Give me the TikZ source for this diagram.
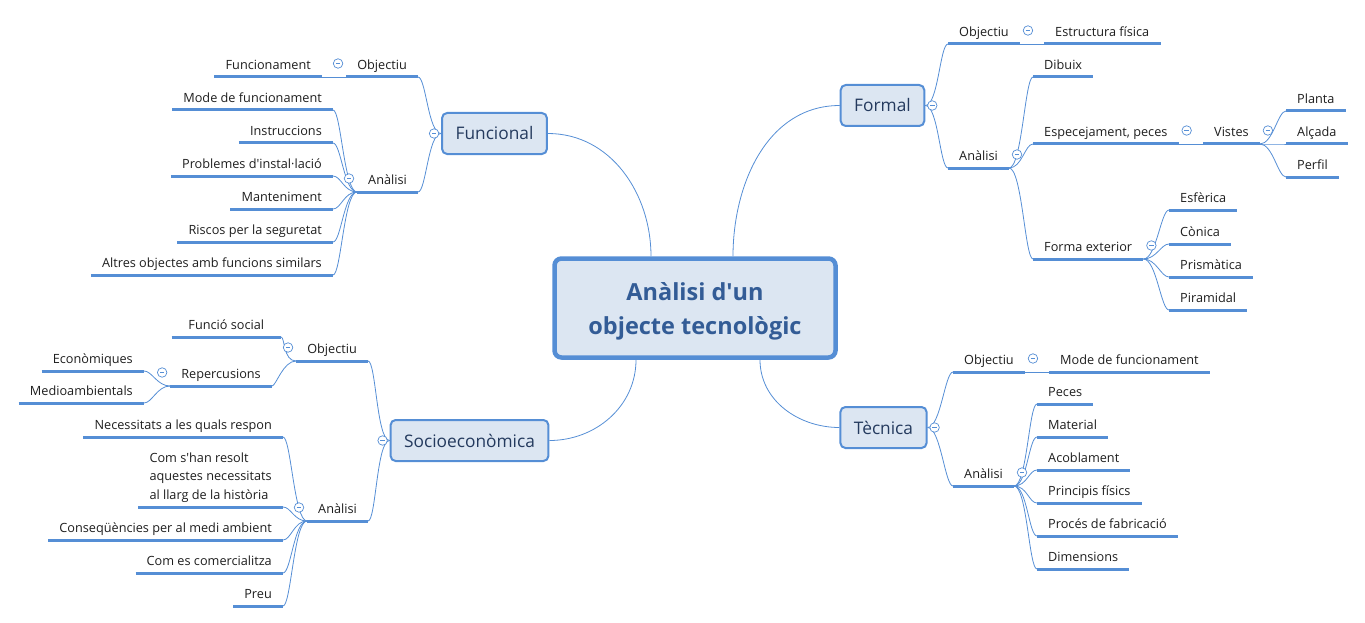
\documentclass[tikz,border=0pt]{standalone}
\usepackage{fontspec}
\setmainfont{Open Sans}
\definecolor{mapline}{RGB}{85,142,213}
\definecolor{mapfill}{RGB}{220,230,242}
\definecolor{maintext}{RGB}{51,92,150}
\definecolor{topictext}{RGB}{36,58,94}
\definecolor{leaftext}{RGB}{30,30,30}
\newcommand{\ap}{\textquotesingle}
\tikzset{
  centre/.style={draw=mapline, line width=4.5pt, fill=mapfill, rounded corners=7pt,
    minimum width=281pt, minimum height=99pt},
  title/.style={align=center, font=\fontsize{23.5}{34}\selectfont\bfseries, text=maintext},
  topic/.style={draw=mapline, line width=2pt, fill=mapfill, rounded corners=5pt,
    minimum height=41pt, inner xsep=13.5pt, font=\fontsize{17.3}{20}\selectfont, text=topictext},
  leaf/.style={inner xsep=11pt, inner ysep=4.7pt, text depth=3pt,
    font=\fontsize{12.7}{18.5}\selectfont, text=leaftext},
  leafL/.style={leaf, anchor=south east},
  leafR/.style={leaf, anchor=south west},
  uline/.style={draw=mapline, line width=3pt},
  branch/.style={draw=mapline, line width=0.8pt},
  spreadR/.style={branch, out=0, in=180, out distance=13pt, in distance=8pt},
  spreadL/.style={branch, out=180, in=0, out distance=13pt, in distance=8pt},
  fold/.style={circle, draw=mapline, fill=white, line width=0.7pt, minimum size=9.5pt, inner sep=0pt,
    path picture={\draw[mapline, line width=0.7pt] ([xshift=2.5pt]path picture bounding box.west)
      -- ([xshift=-2.5pt]path picture bounding box.east);}}
}
\begin{document}
\begin{tikzpicture}[x=1pt,y=1pt]
\useasboundingbox (0,0) rectangle (1365,-623);

%Drawing centre and main topics
\node[centre] (centre) at (695,-308) {};
\node[title] (titletext) at ([yshift=-3pt]centre.center) {Anàlisi d\ap un\\objecte tecnològic};
\node[topic] (funcional) at (494.5,-133.5) {Funcional};
\node[topic] (formal) at (882.5,-105.5) {Formal};
\node[topic] (socio) at (469.5,-440.5) {Socioeconòmica};
\node[topic] (tecnica) at (883.5,-427.5) {Tècnica};

%Funcional
\node[leafL] (fuObj) at (418,-77) {Objectiu};
\node[leafL] (fuObjF) at (322,-77) {Funcionament};
\node[leafL] (fuAn) at (418,-192) {Anàlisi};
\node[leafL] (fu1) at (333,-110) {Mode de funcionament};
\node[leafL] (fu2) at (333,-143) {Instruccions};
\node[leafL] (fu3) at (333,-176) {Problemes d\ap instal·lació};
\node[leafL] (fu4) at (333,-209) {Manteniment};
\node[leafL] (fu5) at (333,-242) {Riscos per la seguretat};
\node[leafL] (fu6) at (333,-275) {Altres objectes amb funcions similars};

%Formal
\node[leafR] (fObj) at (948,-44) {Objectiu};
\node[leafR] (fObjE) at (1044,-44) {Estructura física};
\node[leafR] (fAn) at (948,-168) {Anàlisi};
\node[leafR] (fDib) at (1033,-77) {Dibuix};
\node[leafR] (fEsp) at (1033,-144) {Especejament, peces};
\node[leafR] (fVis) at (1203,-144) {Vistes};
\node[leafR] (fv1) at (1286,-111) {Planta};
\node[leafR] (fv2) at (1286,-144) {Alçada};
\node[leafR] (fv3) at (1286,-177) {Perfil};
\node[leafR] (fFor) at (1033,-259) {Forma exterior};
\node[leafR] (fe1) at (1169,-210) {Esfèrica};
\node[leafR] (fe2) at (1169,-244) {Cònica};
\node[leafR] (fe3) at (1169,-277) {Prismàtica};
\node[leafR] (fe4) at (1169,-310) {Piramidal};

%Socioeconomica
\node[leafL] (sObj) at (368,-361) {Objectiu};
\node[leafL, minimum width=109pt] (sFun) at (281,-337) {Funció social};
\node[leafL] (sRep) at (272,-386) {Repercusions};
\node[leafL] (sEco) at (144,-371) {Econòmiques};
\node[leafL] (sMed) at (144,-403) {Medioambientals};
\node[leafL] (sAn) at (368,-521) {Anàlisi};
\node[leafL] (s1) at (283,-437) {Necessitats a les quals respon};
\node[leafL, align=left] (s2) at (283,-507) {Com s\ap han resolt\\aquestes necessitats\\al llarg de la història};
\node[leafL] (s3) at (283,-540) {Conseqüències per al medi ambient};
\node[leafL] (s4) at (283,-573) {Com es comercialitza};
\node[leafL] (s5) at (283,-606) {Preu};

%Tecnica
\node[leafR] (tObj) at (953,-372) {Objectiu};
\node[leafR] (tObjM) at (1049,-372) {Mode de funcionament};
\node[leafR] (tAn) at (953,-486) {Anàlisi};
\node[leafR] (t1) at (1037,-404) {Peces};
\node[leafR] (t2) at (1037,-437) {Material};
\node[leafR] (t3) at (1037,-470) {Acoblament};
\node[leafR] (t4) at (1037,-503) {Principis físics};
\node[leafR] (t5) at (1037,-536) {Procés de fabricació};
\node[leafR] (t6) at (1037,-569) {Dimensions};

%underlines
\foreach \n in {fuObj,fuObjF,fuAn,fu1,fu2,fu3,fu4,fu5,fu6,
  fObj,fObjE,fAn,fDib,fEsp,fVis,fv1,fv2,fv3,fFor,fe1,fe2,fe3,fe4,
  sObj,sFun,sRep,sEco,sMed,sAn,s1,s2,s3,s4,s5,
  tObj,tObjM,tAn,t1,t2,t3,t4,t5,t6}
  \draw[uline] (\n.south west) -- (\n.south east);

%connecting centre to topics
\draw[branch] ([xshift=-44pt]centre.north) to[out=90,in=0] (funcional.east);
\draw[branch] ([xshift=38pt]centre.north) to[out=90,in=180] (formal.west);
\draw[branch] ([xshift=-59pt]centre.south) to[out=-90,in=0] (socio.east);
\draw[branch] ([xshift=65pt]centre.south) to[out=-90,in=180] (tecnica.west);

%connecting topics to subtopics
\foreach \n in {fuObj,fuAn} \draw[spreadL] (funcional.west) to (\n.south east);
\foreach \n in {sObj,sAn} \draw[spreadL] (socio.west) to (\n.south east);
\foreach \n in {fObj,fAn} \draw[spreadR] (formal.east) to (\n.south west);
\foreach \n in {tObj,tAn} \draw[spreadR] (tecnica.east) to (\n.south west);

%connecting subtopics to leaves
\draw[branch] (fuObj.south west) -- (fuObjF.south east);
\foreach \n in {fu1,fu2,fu3,fu4,fu5,fu6} \draw[spreadL] (fuAn.south west) to (\n.south east);
\foreach \n in {sFun,sRep} \draw[spreadL, in distance=4pt] (sObj.south west) to (\n.south east);
\foreach \n in {sEco,sMed} \draw[spreadL] (sRep.south west) to (\n.south east);
\foreach \n in {s1,s2,s3,s4,s5} \draw[spreadL] (sAn.south west) to (\n.south east);
\draw[branch] (fObj.south east) -- (fObjE.south west);
\foreach \n in {fDib,fEsp,fFor} \draw[spreadR] (fAn.south east) to (\n.south west);
\draw[branch] (fEsp.south east) -- (fVis.south west);
\foreach \n in {fv1,fv2,fv3} \draw[spreadR] (fVis.south east) to (\n.south west);
\foreach \n in {fe1,fe2,fe3,fe4} \draw[spreadR] (fFor.south east) to (\n.south west);
\draw[branch] (tObj.south east) -- (tObjM.south west);
\foreach \n in {t1,t2,t3,t4,t5,t6} \draw[spreadR] (tAn.south east) to (\n.south west);

%collapse buttons
\node[fold] (cFu) at ([xshift=-7pt]funcional.west) {};
\node[fold] (cSo) at ([xshift=-7pt]socio.west) {};
\node[fold] (cFo) at ([xshift=7pt]formal.east) {};
\node[fold] (cTe) at ([xshift=7pt]tecnica.east) {};
\foreach \n in {fuObj,fuAn,sObj,sRep,sAn}
  \node[fold] (c\n) at ([xshift=-8pt,yshift=13.5pt]\n.south west) {};
\foreach \n in {fObj,fAn,fEsp,fVis,fFor,tObj,tAn}
  \node[fold] (c\n) at ([xshift=8pt,yshift=13.5pt]\n.south east) {};
\end{tikzpicture}
\end{document}
